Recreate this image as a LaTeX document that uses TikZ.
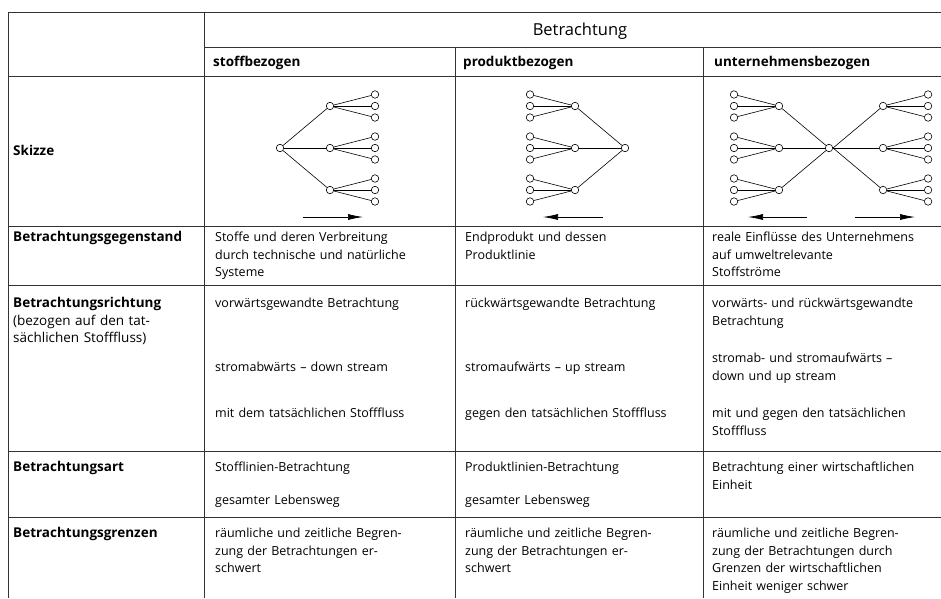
\documentclass[tikz,border=0pt]{standalone}
\usepackage{fontspec}
\setmainfont{Open Sans}
\usetikzlibrary{arrows.meta,positioning}

\begin{document}
\begin{tikzpicture}[x=1pt, y=-1pt, every node/.style={inner sep=0pt},
        knot/.style={shape=circle, draw, fill=white, minimum size=7.5pt, line width=0.6pt},
        every child node/.style={knot},
        edge from parent/.style={draw, line width=0.6pt},
        gridline/.style={draw=black!80, line width=0.9pt},
        cell/.style={anchor=base west, align=left, text width=236pt, font=\fontsize{12.5}{17.5}\selectfont},
        rowlabel/.style={cell, text width=185pt, font=\bfseries\fontsize{13.5}{17.5}\selectfont},
        colhead/.style={anchor=base west, font=\bfseries\fontsize{13.5}{16}\selectfont},
        flow/.style={-{Latex[length=15pt,width=6pt]}, line width=0.7pt}]
        \tikzstyle{level 1}=[level distance=50pt, sibling distance=42pt]
        \tikzstyle{level 2}=[level distance=45pt, sibling distance=11.5pt]
        \useasboundingbox (0,0) rectangle (941,598);

        % table rules
        \draw[gridline] (8,12) -- (941,12);
        \draw[gridline] (204,47) -- (941,47);
        \draw[gridline] (8,76) -- (941,76);
        \foreach \y in {226,285,451,517}
            \draw[gridline] (8,\y) -- (941,\y);
        \draw[gridline] (8,12) -- (8,598);
        \draw[gridline] (204,12) -- (204,598);
        \draw[gridline] (455,47) -- (455,598);
        \draw[gridline] (703,47) -- (703,598);

        % headings
        \node[anchor=base] (betr) at (580,35) {\fontsize{16.5}{19}\selectfont Betrachtung};
        \node[colhead] (hstoff) at (213,66) {stoffbezogen};
        \node[colhead] (hprod) at (463,66) {produktbezogen};
        \node[colhead] (hunt) at (714,66) {unternehmensbezogen};

        % row labels
        \node[rowlabel] (skizze) at (13,155) {Skizze};
        \node[rowlabel] (gegen) at (13,241.5) {Betrachtungsgegenstand};
        \node[cell, text width=185pt, font=\fontsize{13.5}{17.5}\selectfont] (richt) at (13,307.5)
            {\textbf{Betrachtungsrichtung}\\(bezogen auf den tat-\\sächlichen Stofffluss)};
        \node[rowlabel] (art) at (13,471.5) {Betrachtungsart};
        \node[rowlabel] (grenz) at (13,537.5) {Betrachtungsgrenzen};

        % sketch: stoffbezogen
        \node[knot] (stoff) at (280,148) {} [grow=east]
        child { node {}
                child { node {} }
                child { node {} }
                child { node {} }
            }
        child { node {}
                child { node {} }
                child { node {} }
                child { node {} }
            }
        child { node {}
                child { node {} }
                child { node {} }
                child { node {} }
            };
        \coordinate (stoffA) at (303,217);
        \coordinate (stoffB) at (363,217);
        \draw[flow] (stoffA) -- (stoffB);

        % sketch: produktbezogen
        \node[knot] (prod) at (625,148) {} [grow=west]
        child { node {}
                child { node {} }
                child { node {} }
                child { node {} }
            }
        child { node {}
                child { node {} }
                child { node {} }
                child { node {} }
            }
        child { node {}
                child { node {} }
                child { node {} }
                child { node {} }
            };
        \coordinate (prodA) at (603,217);
        \coordinate (prodB) at (543,217);
        \draw[flow] (prodA) -- (prodB);

        % sketch: unternehmensbezogen
        \node[knot] (unt) at (829,148) {} [grow=west]
        child { node {}
                child { node {} }
                child { node {} }
                child { node {} }
            }
        child { node {}
                child { node {} }
                child { node {} }
                child { node {} }
            }
        child { node {}
                child { node {} }
                child { node {} }
                child { node {} }
            };
        \coordinate (untE) at (unt.east) [grow=east]
        child { node {}
                child { node {} }
                child { node {} }
                child { node {} }
            }
        child { node {}
                child { node {} }
                child { node {} }
                child { node {} }
            }
        child { node {}
                child { node {} }
                child { node {} }
                child { node {} }
            };
        \coordinate (untA) at (807,217);
        \coordinate (untB) at (748,217);
        \coordinate (untC) at (855,217);
        \coordinate (untD) at (915,217);
        \draw[flow] (untA) -- (untB);
        \draw[flow] (untC) -- (untD);

        % stoffbezogen
        \node[cell] (s1) at (215,241.5) {Stoffe und deren Verbreitung\\durch technische und natürliche\\Systeme};
        \node[cell] (s2) at (215,307.5) {vorwärtsgewandte Betrachtung};
        \node[cell] (s3) at (215,371.5) {stromabwärts – down stream};
        \node[cell] (s4) at (215,417.5) {mit dem tatsächlichen Stofffluss};
        \node[cell] (s5) at (215,471.5) {Stofflinien-Betrachtung};
        \node[cell] (s6) at (215,504.5) {gesamter Lebensweg};
        \node[cell] (s7) at (215,537.5) {räumliche und zeitliche Begren-\\zung der Betrachtungen er-\\schwert};

        % produktbezogen
        \node[cell] (p1) at (465,241.5) {Endprodukt und dessen\\Produktlinie};
        \node[cell] (p2) at (465,307.5) {rückwärtsgewandte Betrachtung};
        \node[cell] (p3) at (465,371.5) {stromaufwärts – up stream};
        \node[cell] (p4) at (465,417.5) {gegen den tatsächlichen Stofffluss};
        \node[cell] (p5) at (465,471.5) {Produktlinien-Betrachtung};
        \node[cell] (p6) at (465,504.5) {gesamter Lebensweg};
        \node[cell] (p7) at (465,537.5) {räumliche und zeitliche Begren-\\zung der Betrachtungen er-\\schwert};

        % unternehmensbezogen
        \node[cell] (u1) at (712,241.5) {reale Einflüsse des Unternehmens\\auf umweltrelevante\\Stoffströme};
        \node[cell] (u2) at (712,307.5) {vorwärts- und rückwärtsgewandte\\Betrachtung};
        \node[cell] (u3) at (712,362.5) {stromab- und stromaufwärts –\\down und up stream};
        \node[cell] (u4) at (712,417.5) {mit und gegen den tatsächlichen\\Stofffluss};
        \node[cell] (u5) at (712,471.5) {Betrachtung einer wirtschaftlichen\\Einheit};
        \node[cell] (u6) at (712,537.5) {räumliche und zeitliche Begren-\\zung der Betrachtungen durch\\Grenzen der wirtschaftlichen\\Einheit weniger schwer};
    \end{tikzpicture}
\end{document}
